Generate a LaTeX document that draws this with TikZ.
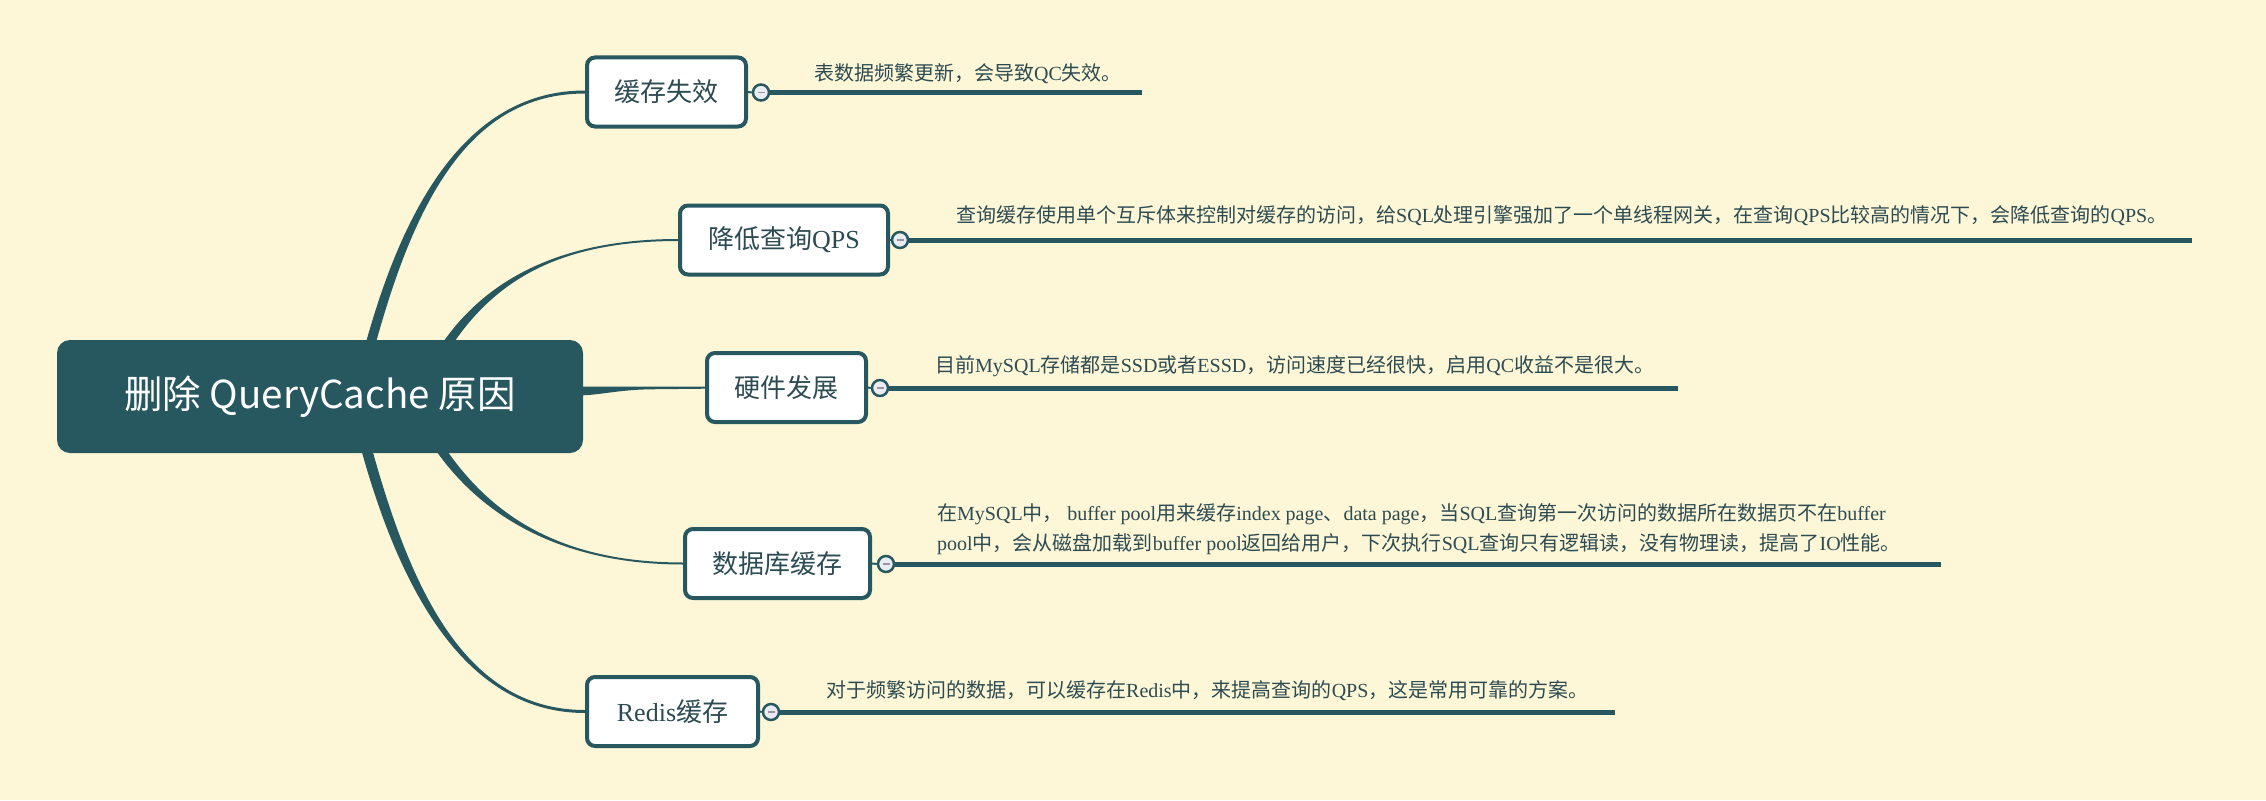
\documentclass[tikz,border=0pt]{standalone}
\usepackage{fontspec}
\setmainfont{Noto Sans CJK SC}
\newfontfamily\latf{Liberation Serif}
\newcommand\lat[1]{{\latf #1}}
\definecolor{bgc}{HTML}{FDF7D7}
\definecolor{mmteal}{HTML}{27575F}
\definecolor{txtc}{HTML}{2D4B52}
\definecolor{togfill}{HTML}{E9EDF2}
\definecolor{minusc}{HTML}{9A93A3}
\begin{document}
\begin{tikzpicture}[x=1pt,y=-1pt,
  rootbox/.style={fill=mmteal, rounded corners=13pt, minimum width=526pt, minimum height=113pt,
    text=white, font=\fontsize{38.5}{42}\selectfont, inner sep=0pt},
  subbox/.style={draw=mmteal, line width=4pt, fill=white, rounded corners=8pt, minimum height=69pt,
    text=txtc, font=\fontsize{26}{30}\selectfont, inner sep=0pt, anchor=west},
  togg/.style={circle, draw=mmteal, line width=2.5pt, fill=togfill, minimum size=16pt, inner sep=0pt},
  minusl/.style={draw=minusc, line width=1.8pt},
  leafline/.style={draw=mmteal, line width=5pt},
  stubline/.style={draw=mmteal, line width=2pt},
  desc/.style={anchor=base west, inner sep=0pt, text=txtc, font=\fontsize{20}{22}\selectfont},
  branch/.style={fill=mmteal}
]
\useasboundingbox (0,0) rectangle (2266,800);
\fill[bgc] (0,0) rectangle (2266,800);

% tapered branches
\fill[branch] (365,346) .. controls (405,200) and (470,90.5) .. (585,90.5) -- (585,93.5) .. controls (470,93.5) and (415,200) .. (375,346) -- cycle;
\fill[branch] (440.5,346) .. controls (484.5,280) and (560,239) .. (678,239) -- (678,241) .. controls (560,241) and (495.5,280) .. (451.5,346) -- cycle;
\fill[branch] (575,386.5) -- (705,386.5) -- (705,388.7) -- (650,389.3) .. controls (615,390) and (600,395.5) .. (575,395.5) -- cycle;
\fill[branch] (433.5,447) .. controls (479.5,515) and (560,564.5) .. (683,564.5) -- (683,562.5) .. controls (560,562.5) and (490.5,515) .. (444.5,447) -- cycle;
\fill[branch] (360.5,447) .. controls (402.5,600) and (470,713) .. (585,713) -- (585,710) .. controls (470,710) and (413.5,600) .. (371.5,447) -- cycle;

% root
\node[rootbox] (root) at (320,396.5) {删除 QueryCache 原因};

% sub boxes
\node[subbox, minimum width=159pt] (b1) at (585,92) {缓存失效};
\node[subbox, minimum width=208pt] (b2) at (678,240) {降低查询\lat{QPS}};
\node[subbox, minimum width=159pt] (b3) at (705,387.5) {硬件发展};
\node[subbox, minimum width=185pt] (b4) at (683,563.5) {数据库缓存};
\node[subbox, minimum width=171pt] (b5) at (585,711.5) {\lat{Redis}缓存};

% toggles
\node[togg] (c1) at (761,92.5) {};
\node[togg] (c2) at (900,240) {};
\node[togg] (c3) at (880,388) {};
\node[togg] (c4) at (886,564) {};
\node[togg] (c5) at (771,712) {};
\foreach \c in {c1,c2,c3,c4,c5}{
  \draw[minusl] ([xshift=-3.5pt]\c.center) -- ([xshift=3.5pt]\c.center);
}

% line end points
\coordinate (e1) at (1142,92.5);
\coordinate (e2) at (2192,240);
\coordinate (e3) at (1678,388);
\coordinate (e4) at (1941,564);
\coordinate (e5) at (1615,712);

\foreach \i in {1,...,5}{
  \draw[stubline] (b\i.east) -- (c\i.west);
  \draw[leafline] (c\i.east) -- (e\i);
}

% descriptions
\node[desc] (t1) at (814,80.5) {表数据频繁更新，会导致\lat{QC}失效。};
\node[desc] (t2) at (956,222.5) {查询缓存使用单个互斥体来控制对缓存的访问，给\lat{SQL}处理引擎强加了一个单线程网关，在查询\lat{QPS}比较高的情况下，会降低查询的\lat{QPS}。};
\node[desc] (t3) at (935,372.5) {目前\lat{MySQL}存储都是\lat{SSD}或者\lat{ESSD}，访问速度已经很快，启用\lat{QC}收益不是很大。};
\node[desc] (t4a) at (937,520.5) {在\lat{MySQL}中， \lat{buffer pool}用来缓存\lat{index page}、\lat{data page}，当\lat{SQL}查询第一次访问的数据所在数据页不在\lat{buffer}};
\node[desc] (t4b) at (937,550.5) {\lat{pool}中，会从磁盘加载到\lat{buffer pool}返回给用户，下次执行\lat{SQL}查询只有逻辑读，没有物理读，提高了\lat{IO}性能。};
\node[desc] (t5) at (826,697.5) {对于频繁访问的数据，可以缓存在\lat{Redis}中，来提高查询的\lat{QPS}，这是常用可靠的方案。};
\end{tikzpicture}
\end{document}
